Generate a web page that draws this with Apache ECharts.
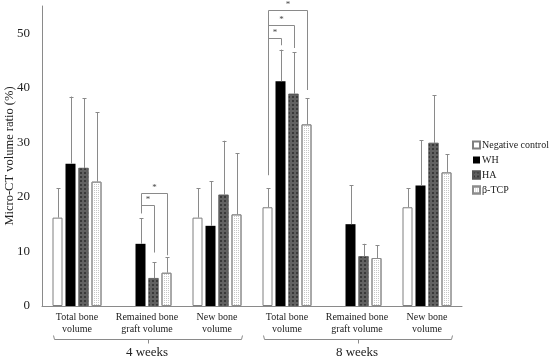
<!DOCTYPE html>
<html><head><meta charset="utf-8">
<script src="https://cdn.jsdelivr.net/npm/echarts@6/dist/echarts.min.js"></script>
<style>html,body{margin:0;padding:0;background:#fff}#c{width:550px;height:362px}</style>
</head><body><div id="c"></div>
<script>
// ---- data ----
var categories = ['Total bone\nvolume', 'Remained bone\ngraft volume', 'New bone\nvolume',
                  'Total bone\nvolume', 'Remained bone\ngraft volume', 'New bone\nvolume'];
var periods = ['4 weeks', '8 weeks'];
var seriesNames = ['Negative control', 'WH', 'HA', 'β-TCP'];
var negControl = [16.2, null, 16.2, 18.1, null, 18.1];
var wh = [26.1, 11.4, 14.7, 41.2, 15.0, 22.1];
var ha = [25.3, 5.1, 20.4, 38.9, 9.1, 29.9];
var tcp = [22.8, 6.1, 16.8, 33.3, 8.8, 24.5];
// upper end of error bars (mean + SD)
var negControlErr = [21.6, null, 21.6, 21.6, null, 21.6];
var whErr = [38.4, 16.1, 22.9, 47.0, 22.1, 30.4];
var haErr = [38.1, 8.0, 30.3, 46.5, 11.4, 38.6];
var tcpErr = [35.5, 8.9, 28.0, 38.1, 11.1, 27.8];
// significance brackets: [category, fromSeries, toSeries, bracketLevel, leftEnd, rightEnd]
var brackets = [
  [1, 1, 2, 18.5, 17.0, 9.8],
  [1, 1, 3, 20.7, 17.0, 9.3],
  [3, 0, 1, 49.1, 24.0, 47.8],
  [3, 0, 2, 51.5, 24.0, 47.3],
  [3, 0, 3, 54.2, 24.0, 39.6]
];
// period groups (first category, last category)
var periodGroups = [[0, 2], [3, 5]];

var FONT = '"Liberation Serif", "Times New Roman", serif';
var BAR_W = 10, BAR_GAP = 3;
function offsetOf(si) { return (si - 1.5) * (BAR_W + BAR_GAP); }

var allVals = [negControl, wh, ha, tcp];
var allErr = [negControlErr, whErr, haErr, tcpErr];
var errData = [];
for (var s = 0; s < 4; s++) {
  for (var i = 0; i < categories.length; i++) {
    if (allVals[s][i] != null) errData.push([i, s, allVals[s][i], allErr[s][i]]);
  }
}

var styles = [
  {color: '#ffffff', borderColor: '#7f7f7f', borderWidth: 1},
  {color: '#000000', borderColor: '#000000', borderWidth: 0},
  {color: '#626262', borderColor: '#555', borderWidth: 0.5,
   decal: {symbol: 'rect', symbolSize: 1, color: 'rgba(40,40,40,0.7)', dashArrayX: [2, 2], dashArrayY: [2, 2], rotation: 0}},
  {color: '#ffffff', borderColor: '#8c8c8c', borderWidth: 1,
   decal: {symbol: 'rect', symbolSize: 1, color: '#c8c8c8', dashArrayX: [1, 1], dashArrayY: [1, 1], rotation: 0}}
];

var series = [];
for (var k = 0; k < 4; k++) {
  series.push({
    name: seriesNames[k], type: 'bar', xAxisIndex: 0, yAxisIndex: 0,
    data: allVals[k].map(function (v) { return v == null ? '-' : v; }),
    barWidth: BAR_W, barGap: '30%', itemStyle: styles[k], z: 2
  });
}
series.push({
  type: 'custom', name: 'err', xAxisIndex: 0, yAxisIndex: 0, z: 3, silent: true,
  data: errData,
  renderItem: function (params, api) {
    var cat = api.value(0), si = api.value(1);
    var p0 = api.coord([cat, api.value(2)]);
    var p1 = api.coord([cat, api.value(3)]);
    var x = Math.round(p0[0] + offsetOf(si)) + 0.5;
    return {type: 'group', children: [
      {type: 'line', shape: {x1: x, y1: p0[1], x2: x, y2: p1[1]}, style: {stroke: '#8a8a8a', lineWidth: 1}},
      {type: 'line', shape: {x1: x - 2, y1: Math.round(p1[1]) + 0.5, x2: x + 2, y2: Math.round(p1[1]) + 0.5}, style: {stroke: '#8a8a8a', lineWidth: 1}}
    ]};
  }
});
series.push({
  type: 'custom', name: 'sig', xAxisIndex: 0, yAxisIndex: 0, z: 4, silent: true,
  data: brackets,
  renderItem: function (params, api) {
    var cat = api.value(0);
    var xa = Math.round(api.coord([cat, 0])[0] + offsetOf(api.value(1))) + 0.5;
    var xb = Math.round(api.coord([cat, 0])[0] + offsetOf(api.value(2))) + 0.5;
    var yl = Math.round(api.coord([cat, api.value(3)])[1]) + 0.5;
    var y1 = api.coord([cat, api.value(4)])[1];
    var y2 = api.coord([cat, api.value(5)])[1];
    return {type: 'group', children: [
      {type: 'polyline', shape: {points: [[xa, y1], [xa, yl], [xb, yl], [xb, y2]]},
       style: {stroke: '#8a8a8a', lineWidth: 1, fill: null}},
      {type: 'text', style: {text: '*', x: (xa + xb) / 2, y: yl - 1, align: 'center', verticalAlign: 'bottom',
        font: '9px ' + FONT, fill: '#444'}}
    ]};
  }
});
series.push({
  type: 'custom', name: 'brace', xAxisIndex: 0, yAxisIndex: 0, z: 4, silent: true, clip: false,
  data: periodGroups,
  renderItem: function (params, api) {
    var a = api.coord([api.value(0), 0]);
    var b = api.coord([api.value(1), 0]);
    var xl = Math.round(a[0] + offsetOf(0) - BAR_W / 2) + 0.5;
    var xr = Math.round(b[0] + offsetOf(3) + BAR_W / 2) + 0.5;
    var y = Math.round(a[1] + 33) + 0.5;
    var xm = Math.round((xl + xr) / 2) + 0.5;
    return {type: 'group', children: [
      {type: 'polyline', shape: {points: [[xl, y - 4], [xl + 1, y], [xr - 1, y], [xr, y - 4]]},
       style: {stroke: '#8a8a8a', lineWidth: 1, fill: null}},
      {type: 'line', shape: {x1: xm, y1: y, x2: xm, y2: y + 4}, style: {stroke: '#8a8a8a', lineWidth: 1}}
    ]};
  }
});

var option = {
  animation: false,
  backgroundColor: '#ffffff',
  textStyle: {fontFamily: FONT},
  grid: {left: 42, right: 88, top: 6, bottom: 56, containLabel: false, outerBoundsMode: 'none'},
  legend: {
    orient: 'vertical', left: 472, top: 139, itemWidth: 7, itemHeight: 7, itemGap: 3, padding: 0,
    icon: 'rect', data: seriesNames,
    textStyle: {fontFamily: FONT, fontSize: 10, color: '#222', lineHeight: 12, padding: [0, 0, 0, -3],
                overflow: 'none', width: 100}
  },
  xAxis: [
    {type: 'category', data: categories, position: 'bottom',
     axisLine: {lineStyle: {color: '#8a8a8a', width: 1}}, axisTick: {show: false},
     axisLabel: {fontFamily: FONT, fontSize: 10, color: '#222', margin: 6, lineHeight: 11.5, interval: 0}},
    {type: 'category', data: periods, position: 'bottom', offset: 40,
     axisLine: {show: false}, axisTick: {show: false},
     axisLabel: {fontFamily: FONT, fontSize: 13, color: '#222', margin: 0}}
  ],
  yAxis: {
    type: 'value', min: 0, max: 55, interval: 10,
    name: 'Micro-CT volume ratio (%)', nameLocation: 'middle', nameGap: 26, nameRotate: 90,
    nameMoveOverlap: false,
    nameTextStyle: {fontFamily: FONT, fontSize: 12.5, color: '#222'},
    axisLine: {show: true, lineStyle: {color: '#8a8a8a'}}, axisTick: {show: false},
    splitLine: {show: false},
    axisLabel: {fontFamily: FONT, fontSize: 13, color: '#222', margin: 12, showMaxLabel: false}
  },
  series: series
};
var chart = echarts.init(document.getElementById('c'), null, {renderer: 'canvas'});
chart.setOption(option);
</script></body></html>
